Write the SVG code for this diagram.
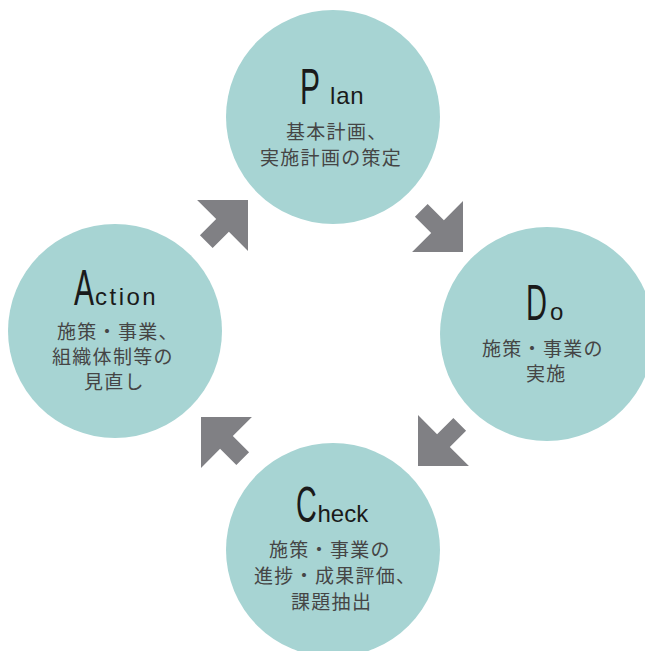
<svg xmlns="http://www.w3.org/2000/svg" width="645" height="651" viewBox="0 0 645 651">
<style>
.c{fill:#a7d4d3}
.hd{font-family:"Liberation Sans",Arial,sans-serif;fill:#1a1a1a}
.big{font-size:50px}
.sm{font-size:24px}
.jp{font-family:"Noto Sans CJK JP","Noto Sans",sans-serif;font-size:19px;letter-spacing:1.3px;fill:#454545}
.ar{fill:#808084}
</style>
<defs>
<path id="arrow" d="M0,0 L-36,-36 L-36,-9 L-59,-9 L-59,9 L-36,9 L-36,36 Z"/>
</defs>
<rect width="645" height="651" fill="#ffffff"/>
<g id="connectors">
<use href="#arrow" class="ar" transform="translate(248,200) rotate(-45)"/>
<use href="#arrow" class="ar" transform="translate(463,252) rotate(45)"/>
<use href="#arrow" class="ar" transform="translate(418,466) rotate(135)"/>
<use href="#arrow" class="ar" transform="translate(201,417) rotate(225)"/>
</g>
<g id="plan">
<circle class="c" cx="333" cy="117" r="107"/>
<text class="hd big" transform="translate(300,104) scale(0.6,1)">P</text>
<text class="hd sm" x="330" y="104" letter-spacing="0.8">lan</text>
<text class="jp" x="286" y="139">基本計画、</text>
<text class="jp" x="260" y="165">実施計画の策定</text>
</g>
<g id="do">
<circle class="c" cx="547" cy="334" r="107"/>
<text class="hd big" transform="translate(526,320) scale(0.58,1)">D</text>
<text class="hd sm" x="550" y="320">o</text>
<text class="jp" x="482" y="356">施策・事業の</text>
<text class="jp" x="526" y="381">実施</text>
</g>
<g id="check">
<circle class="c" cx="333" cy="550" r="107"/>
<text class="hd big" transform="translate(296,522) scale(0.575,1)">C</text>
<text class="hd sm" x="317.5" y="522" font-size="25">heck</text>
<text class="jp" x="269" y="557">施策・事業の</text>
<text class="jp" x="254" y="583">進捗・成果評価、</text>
<text class="jp" x="291" y="609">課題抽出</text>
</g>
<g id="action">
<circle class="c" cx="115" cy="331" r="107"/>
<text class="hd big" transform="translate(74,305) scale(0.6,1)">A</text>
<text class="hd sm" x="95" y="305" letter-spacing="2.5">ction</text>
<text class="jp" x="57" y="339">施策・事業、</text>
<text class="jp" x="52" y="364">組織体制等の</text>
<text class="jp" x="84" y="389">見直し</text>
</g>
</svg>
